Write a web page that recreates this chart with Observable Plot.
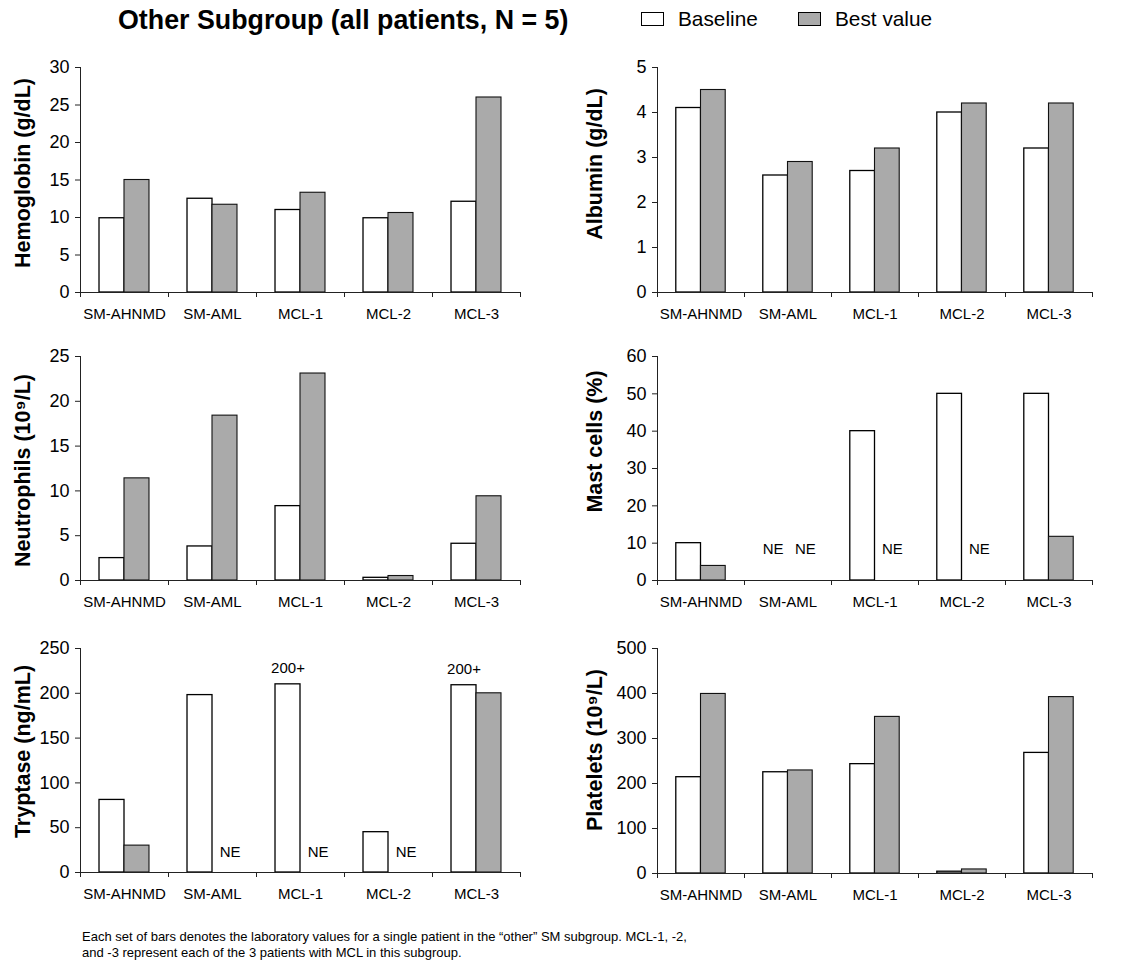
<!DOCTYPE html>
<html>
<head>
<meta charset="utf-8">
<script src="https://cdn.jsdelivr.net/npm/d3@7"></script>
<script src="https://cdn.jsdelivr.net/npm/@observablehq/plot@0.6"></script>
<style>
  html, body { margin: 0; padding: 0; background: #fff; }
  body { font-family: "Liberation Sans", Arial, Helvetica, sans-serif; color: #000; }
  #root { position: relative; width: 1137px; height: 964px; overflow: hidden; }
  .abs { position: absolute; }
  #title { left: 118px; top: 4px; font-size: 26.8px; font-weight: bold; white-space: nowrap; line-height: 32px; }
  .legbox { position: absolute; width: 21px; height: 12px; border: 1px solid #000; }
  .legtxt { position: absolute; font-size: 20.8px; line-height: 24px; white-space: nowrap; }
  #caption { left: 82px; top: 929px; font-size: 13px; line-height: 16px; white-space: nowrap; }
</style>
</head>
<body>
<div id="root">
  <div id="title" class="abs">Other Subgroup (all patients, N = 5)</div>
  <div class="legbox" style="left:641px;top:12px;background:#fff;"></div>
  <div class="legtxt" style="left:678px;top:7px;">Baseline</div>
  <div class="legbox" style="left:798px;top:12px;background:#aaaaaa;"></div>
  <div class="legtxt" style="left:835px;top:7px;">Best value</div>
  <div id="caption" class="abs">Each set of bars denotes the laboratory values for a single patient in the “other” SM subgroup. MCL-1, -2,<br>and -3 represent each of the 3 patients with MCL in this subgroup.</div>
</div>
<script>
// ---------- data ----------
const patients = ["SM-AHNMD", "SM-AML", "MCL-1", "MCL-2", "MCL-3"];
const seriesNames = ["Baseline", "Best value"];

const hemoglobinBaseline = [9.9, 12.5, 11.0, 9.9, 12.1];
const hemoglobinBest     = [15.0, 11.7, 13.3, 10.6, 26.0];
const hemoglobinTicks    = [0, 5, 10, 15, 20, 25, 30];

const albuminBaseline = [4.1, 2.6, 2.7, 4.0, 3.2];
const albuminBest     = [4.5, 2.9, 3.2, 4.2, 4.2];
const albuminTicks    = [0, 1, 2, 3, 4, 5];

const neutrophilsBaseline = [2.5, 3.8, 8.3, 0.3, 4.1];
const neutrophilsBest     = [11.4, 18.4, 23.1, 0.5, 9.4];
const neutrophilsTicks    = [0, 5, 10, 15, 20, 25];

// null = not evaluated (NE)
const mastBaseline = [10, null, 40, 50, 50];
const mastBest     = [3.9, null, null, null, 11.7];
const mastTicks    = [0, 10, 20, 30, 40, 50, 60];

const tryptaseBaseline = [81, 198, 210, 45, 209];
const tryptaseBest     = [30, null, null, null, 200];
const tryptaseTicks    = [0, 50, 100, 150, 200, 250];
const tryptaseAboveLabel = "200+";
const tryptaseAbovePatients = ["MCL-1", "MCL-3"];

const plateletsBaseline = [214, 225, 243, 4, 268];
const plateletsBest     = [399, 229, 348, 9, 392];
const plateletsTicks    = [0, 100, 200, 300, 400, 500];

const neLabel = "NE";

// ---------- layout ----------
const FONT = '"Liberation Sans", Arial, Helvetica, sans-serif';
const BAR = 0.284; // bar width as a fraction of a patient slot

const panels = [
  {label: "Hemoglobin (g/dL)", base: hemoglobinBaseline, best: hemoglobinBest, ticks: hemoglobinTicks,
   left: 0, top: 47, width: 530, ml: 80, mr: 10, ph: 225, tdx: -57, tdy: -7},
  {label: "Albumin (g/dL)", base: albuminBaseline, best: albuminBest, ticks: albuminTicks,
   left: 570, top: 47, width: 567, ml: 87, mr: 45, ph: 225, tdx: -62, tdy: -16},
  {label: "Neutrophils (10⁹/L)", base: neutrophilsBaseline, best: neutrophilsBest, ticks: neutrophilsTicks,
   left: 0, top: 336, width: 530, ml: 80, mr: 10, ph: 224, tdx: -57, tdy: 2},
  {label: "Mast cells (%)", base: mastBaseline, best: mastBest, ticks: mastTicks,
   left: 570, top: 336, width: 567, ml: 87, mr: 45, ph: 224, tdx: -62, tdy: -27, neDy: -27},
  {label: "Tryptase (ng/mL)", base: tryptaseBaseline, best: tryptaseBest, ticks: tryptaseTicks,
   left: 0, top: 628, width: 530, ml: 80, mr: 10, ph: 224, tdx: -57, tdy: -9, neDy: -16,
   above: tryptaseAbovePatients, aboveLabel: tryptaseAboveLabel},
  {label: "Platelets (10⁹/L)", base: plateletsBaseline, best: plateletsBest, ticks: plateletsTicks,
   left: 570, top: 628, width: 567, ml: 87, mr: 45, ph: 225, tdx: -62, tdy: -11}
];

function makePanel(cfg) {
  const rows = [];
  const ne = [];
  patients.forEach((p, i) => {
    [cfg.base[i], cfg.best[i]].forEach((v, k) => {
      const d = {patient: p, i, series: seriesNames[k], value: v};
      if (v == null) ne.push(d); else rows.push(d);
    });
  });
  const baseRows = rows.filter(d => d.series === "Baseline");
  const bestRows = rows.filter(d => d.series === "Best value");
  const aboveRows = cfg.above ? baseRows.filter(d => cfg.above.includes(d.patient)) : [];
  const ymax = cfg.ticks[cfg.ticks.length - 1];
  const mt = 20, mb = 35;

  return Plot.plot({
    width: cfg.width,
    height: mt + cfg.ph + mb,
    marginLeft: cfg.ml, marginRight: cfg.mr, marginTop: mt, marginBottom: mb,
    style: {fontFamily: FONT, background: "transparent", overflow: "visible", color: "#000"},
    x: {domain: [0, patients.length], axis: null},
    y: {domain: [0, ymax], axis: null},
    marks: [
      Plot.rectY(baseRows, {x1: d => d.i + 0.5 - BAR, x2: d => d.i + 0.5, y1: 0, y2: "value",
        fill: "#ffffff", stroke: "#000", strokeWidth: 1.3}),
      Plot.rectY(bestRows, {x1: d => d.i + 0.5, x2: d => d.i + 0.5 + BAR, y1: 0, y2: "value",
        fill: "#aaaaaa", stroke: "#111", strokeWidth: 1.1}),
      Plot.ruleX([0], {stroke: "#222", strokeWidth: 1}),
      Plot.ruleY([0], {stroke: "#222", strokeWidth: 1}),
      Plot.axisY({ticks: cfg.ticks, tickSize: 5, tickPadding: 6, fontSize: 18, label: null, tickFormat: d => String(d), stroke: "#222"}),
      Plot.axisX({ticks: d3.range(patients.length + 1), tickSize: 5, tickFormat: () => "", label: null, stroke: "#222"}),
      Plot.axisX({ticks: patients.map((p, i) => i + 0.5), tickSize: 0, tickPadding: 16, fontSize: 15, label: null,
        tickFormat: d => patients[Math.floor(d)]}),
      Plot.text(ne, {x: d => d.i + 0.5 + (d.series === "Baseline" ? -0.17 : 0.2), frameAnchor: "bottom",
        dy: cfg.neDy || 0, text: () => neLabel, fontSize: 15, fill: "#000"}),
      Plot.text(aboveRows, {x: d => d.i + 0.5 - BAR / 2, y: "value", dy: -16, text: () => cfg.aboveLabel, fontSize: 15, fill: "#000"}),
      Plot.text([cfg.label], {frameAnchor: "left", textAnchor: "middle", lineAnchor: "middle",
        dx: cfg.tdx, dy: cfg.tdy, rotate: -90,
        fontSize: 21.5, fontWeight: "bold", fill: "#000"})
    ]
  });
}

const root = document.getElementById("root");
panels.forEach(cfg => {
  const svg = makePanel(cfg);
  svg.style.position = "absolute";
  svg.style.left = cfg.left + "px";
  svg.style.top = cfg.top + "px";
  root.appendChild(svg);
});
</script>
</body>
</html>
